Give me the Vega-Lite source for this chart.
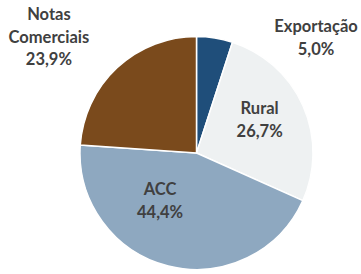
{
  "$schema": "https://vega.github.io/schema/vega-lite/v6.json",
  "width": 233,
  "height": 233,
  "autosize": "none",
  "padding": {"left": 80, "top": 36.5, "right": 48, "bottom": 4.5},
  "background": "white",
  "view": {"stroke": null},
  "data": {
    "values": [
      {"cat": "Exportação", "pct": 5.0, "ord": 1, "label": "Exportação\n5,0%"},
      {"cat": "Rural", "pct": 26.7, "ord": 2, "label": "Rural\n26,7%"},
      {"cat": "ACC", "pct": 44.4, "ord": 3, "label": "ACC\n44,4%"},
      {"cat": "Notas Comerciais", "pct": 23.9, "ord": 4, "label": "Notas\nComerciais\n23,9%"}
    ]
  },
  "encoding": {
    "theta": {"field": "pct", "type": "quantitative", "stack": true},
    "order": {"field": "ord", "type": "ordinal"}
  },
  "layer": [
    {
      "mark": {"type": "arc", "outerRadius": 116.5, "stroke": "white", "strokeWidth": 1.5},
      "encoding": {
        "color": {
          "field": "cat",
          "type": "nominal",
          "scale": {
            "domain": ["Exportação", "Rural", "ACC", "Notas Comerciais"],
            "range": ["#1F4E7A", "#EEF1F2", "#8EA8C0", "#7A4A1C"]
          },
          "legend": null
        }
      }
    },
    {
      "mark": {
        "type": "text",
        "radius": 80,
        "font": "Lato",
        "fontWeight": "bold",
        "fontSize": 16.5,
        "lineBreak": "\n",
        "lineHeight": 22.5,
        "align": "center",
        "baseline": "middle",
        "dx": {"expr": "datum.cat == 'Exportação' ? 107 : datum.cat == 'Rural' ? -10 : datum.cat == 'ACC' ? -17 : -93"},
        "dy": {"expr": "datum.cat == 'Exportação' ? -46.5 : datum.cat == 'Rural' ? -11.5 : datum.cat == 'ACC' ? -40.5 : -79.5"}
      },
      "encoding": {
        "text": {"field": "label", "type": "nominal"},
        "color": {"value": "#404040"}
      }
    }
  ]
}
